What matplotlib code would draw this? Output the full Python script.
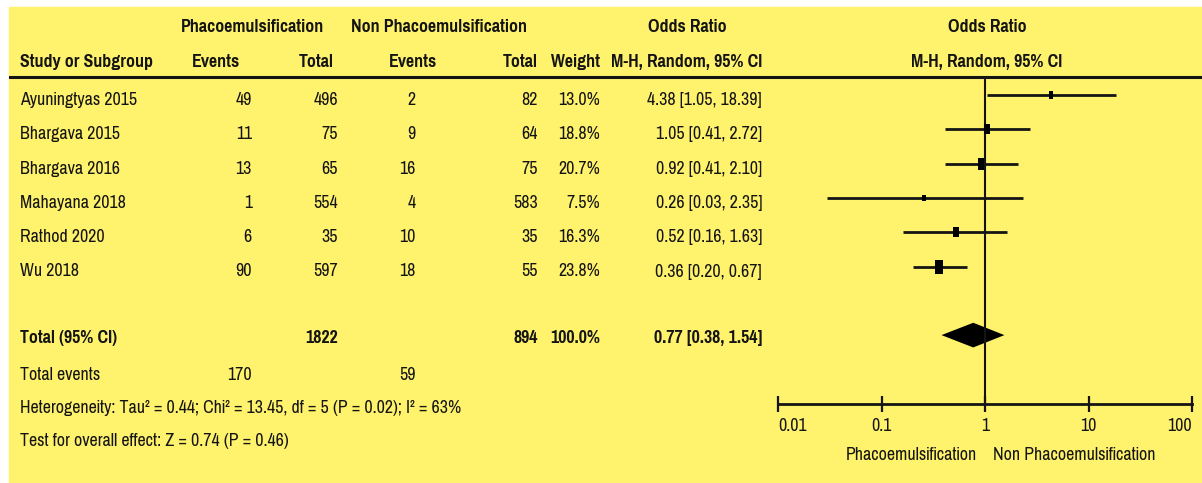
import numpy as np
import matplotlib
matplotlib.use('Agg')
import matplotlib.pyplot as plt
from matplotlib.path import Path

plt.rcParams['font.family'] = ['Pragati Narrow', 'PT Sans Narrow', 'Roboto Condensed', 'Archivo Narrow', 'DejaVu Sans']

# data
studies = ['Ayuningtyas 2015', 'Bhargava 2015', 'Bhargava 2016', 'Mahayana 2018', 'Rathod 2020', 'Wu 2018']
phaco_events = [49, 11, 13, 1, 6, 90]
phaco_total = [496, 75, 65, 554, 35, 597]
non_events = [2, 9, 16, 4, 10, 18]
non_total = [82, 64, 75, 583, 35, 55]
weight = [13.0, 18.8, 20.7, 7.5, 16.3, 23.8]
odds = [4.38, 1.05, 0.92, 0.26, 0.52, 0.36]
ci_lo = [1.05, 0.41, 0.41, 0.03, 0.16, 0.20]
ci_hi = [18.39, 2.72, 2.10, 2.35, 1.63, 0.67]
tot_weight = 100.0
tot_or, tot_lo, tot_hi = 0.77, 0.38, 1.54
het_text = 'Heterogeneity: Tau\u00b2 = 0.44; Chi\u00b2 = 13.45, df = 5 (P = 0.02); I\u00b2 = 63%'
effect_text = 'Test for overall effect: Z = 0.74 (P = 0.46)'
xticks = [0.01, 0.1, 1, 10, 100]
xtick_labels = ['0.01', '0.1', '1', '10', '100']

W, H = 1202, 483
fig = plt.figure(figsize=(W / 100, H / 100), dpi=100)
fig.patch.set_facecolor('white')
ink = '#141414'
yellow = '#fff26c'
fs = 14

# background axes in pixel units
bg = fig.add_axes([0, 0, 1, 1])
bg.set_xlim(0, W); bg.set_ylim(H, 0); bg.axis('off')
bg.add_patch(plt.Rectangle((9, 7), W - 9, H - 7, color=yellow, zorder=0))
bg.plot([10, W], [77, 77], color=ink, lw=2.2)

row0, step = 95, 34.3
def rowy(i):
    return row0 + step * i + 5

# headers
hb = dict(fontsize=fs, fontweight='bold', color=ink, va='center')
bg.text(252, 27, 'Phacoemulsification', ha='center', **hb)
bg.text(439, 27, 'Non Phacoemulsification', ha='center', **hb)
bg.text(687, 27, 'Odds Ratio', ha='center', **hb)
bg.text(987, 27, 'Odds Ratio', ha='center', **hb)
bg.text(20, 62, 'Study or Subgroup', ha='left', **hb)
bg.text(216, 62, 'Events', ha='center', **hb)
bg.text(334, 62, 'Total', ha='right', **hb)
bg.text(413, 62, 'Events', ha='center', **hb)
bg.text(538, 62, 'Total', ha='right', **hb)
bg.text(600, 62, 'Weight', ha='right', **hb)
bg.text(687, 62, 'M-H, Random, 95% CI', ha='center', **hb)
bg.text(987, 62, 'M-H, Random, 95% CI', ha='center', **hb)

tx = dict(fontsize=fs, color=ink, va='center')
for i, s in enumerate(studies):
    y = rowy(i)
    bg.text(20, y, s, ha='left', **tx)
    bg.text(252, y, str(phaco_events[i]), ha='right', **tx)
    bg.text(338, y, str(phaco_total[i]), ha='right', **tx)
    bg.text(416, y, str(non_events[i]), ha='right', **tx)
    bg.text(538, y, str(non_total[i]), ha='right', **tx)
    bg.text(600, y, '%.1f%%' % weight[i], ha='right', **tx)
    bg.text(762, y, '%.2f [%.2f, %.2f]' % (odds[i], ci_lo[i], ci_hi[i]), ha='right', **tx)

y = rowy(7) - 2
bg.text(20, y, 'Total (95% CI)', ha='left', **hb)
bg.text(338, y, str(sum(phaco_total)), ha='right', **hb)
bg.text(538, y, str(sum(non_total)), ha='right', **hb)
bg.text(600, y, '%.1f%%' % tot_weight, ha='right', **hb)
bg.text(762, y, '%.2f [%.2f, %.2f]' % (tot_or, tot_lo, tot_hi), ha='right', **hb)
bg.text(20, 375, 'Total events', ha='left', **tx)
bg.text(252, 375, str(sum(phaco_events)), ha='right', **tx)
bg.text(416, 375, str(sum(non_events)), ha='right', **tx)
bg.text(20, 408, het_text, ha='left', **tx)
bg.text(20, 441, effect_text, ha='left', **tx)

# forest axes: x 0.01 -> 778px, 100 -> 1192px ; y 77px -> 404px
x0, x1 = 778, 1192
ytop, ybot = 77, 404
ax = fig.add_axes([x0 / W, 1 - ybot / H, (x1 - x0) / W, (ybot - ytop) / H])
ax.patch.set_alpha(0)
ax.set_xscale('log')
ax.set_xlim(0.01, 100)
ax.set_ylim((ybot - row0) / step, (ytop - row0) / step)
for sp in ['top', 'left', 'right']:
    ax.spines[sp].set_visible(False)
ax.spines['bottom'].set_linewidth(2)
ax.spines['bottom'].set_color(ink)
ax.set_yticks([])
ax.set_xticks(xticks)
ax.set_xticklabels(xtick_labels)
ax.minorticks_off()
ax.tick_params(axis='x', direction='inout', length=12, width=1.6, color=ink,
               labelsize=fs, labelcolor=ink, pad=4)
labs = ax.get_xticklabels()
labs[0].set_ha('left')
labs[-1].set_ha('right')
ax.axvline(1, color=ink, lw=1.5)

rect = Path([(-0.28, -0.5), (0.28, -0.5), (0.28, 0.5), (-0.28, 0.5), (-0.28, -0.5)])
for i in range(len(studies)):
    ax.plot([ci_lo[i], ci_hi[i]], [i, i], color=ink, lw=2, solid_capstyle='butt')
    size_px = 2.8 + 0.43 * weight[i]
    ax.plot(odds[i], i, marker=rect, markersize=size_px * 0.72, color='black', mew=0)

h = 0.36
ax.fill([tot_lo, tot_or, tot_hi, tot_or], [7, 7 - h, 7, 7 + h], color='black', lw=0)

bg.text(977, 455, 'Phacoemulsification', ha='right', va='center', fontsize=fs, color=ink)
bg.text(993, 455, 'Non Phacoemulsification', ha='left', va='center', fontsize=fs, color=ink)

fig.savefig('out.png', dpi=100, facecolor='white')
